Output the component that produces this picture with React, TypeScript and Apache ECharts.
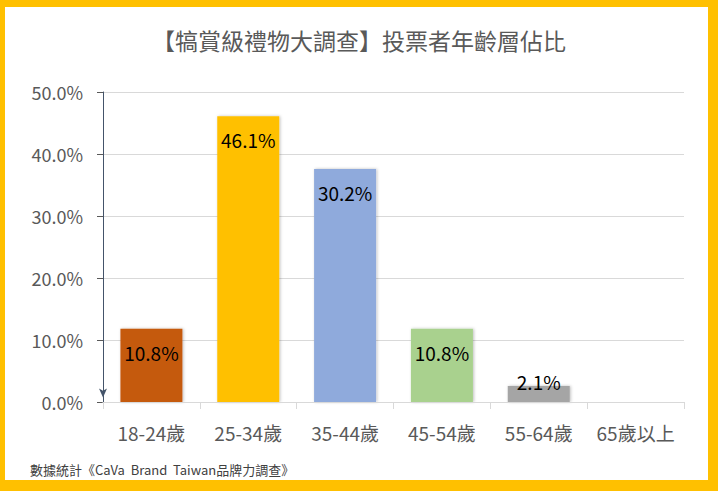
import React, { useEffect, useRef } from "react";
import * as echarts from "echarts";

const titleText = "【犒賞級禮物大調查】投票者年齡層佔比";
const footerText = "數據統計《CaVa  Brand  Taiwan品牌力調查》";
const categories = ["18-24歲", "25-34歲", "35-44歲", "45-54歲", "55-64歲", "65歲以上"];
// bar heights as drawn in the picture (percent)
const barHeights: (number | null)[] = [11.8, 46.1, 37.6, 11.8, 2.6, null];
// labels printed on the bars
const labelValues: (number | null)[] = [10.8, 46.1, 30.2, 10.8, 2.1, null];
const barColors = ["#C55A11", "#FFC000", "#8FAADC", "#A9D18E", "#A5A5A5", "#A5A5A5"];

const FONT = "'Noto Sans CJK TC', 'Noto Sans', sans-serif";

export default function App() {
  const ref = useRef<HTMLDivElement>(null);
  useEffect(() => {
    if (!ref.current) return;
    const chart = echarts.init(ref.current, undefined, { renderer: "svg" });
    const data = barHeights.map((v, i) => {
      const lv = labelValues[i];
      const small = v !== null && v < 5;
      return {
        value: v,
        itemStyle: { color: barColors[i] },
        label: {
          show: lv !== null,
          position: small ? "top" : "insideTop",
          distance: small ? -5 : 14,
          formatter: lv !== null ? lv.toFixed(1) + "%" : "",
        },
      };
    });
    chart.setOption({
      animation: false,
      backgroundColor: "#ffffff",
      textStyle: { fontFamily: FONT },
      title: {
        text: titleText,
        left: "center",
        top: 23,
        textStyle: { fontFamily: FONT, fontSize: 23, fontWeight: "normal", color: "#595959" },
      },
      graphic: [
        { type: "rect", left: 0, top: 0, shape: { width: 718, height: 7 }, style: { fill: "#FFC000" }, silent: true },
        { type: "rect", left: 0, top: 480, shape: { width: 718, height: 11 }, style: { fill: "#FFC000" }, silent: true },
        { type: "rect", left: 0, top: 0, shape: { width: 5, height: 491 }, style: { fill: "#FFC000" }, silent: true },
        { type: "rect", left: 708, top: 0, shape: { width: 10, height: 491 }, style: { fill: "#FFC000" }, silent: true },
        {
          type: "text",
          left: 30,
          top: 463,
          style: { text: footerText, fontFamily: FONT, fontSize: 13, fill: "#404040" },
        },
      ],
      grid: { left: 103, right: 34, top: 92, bottom: 89, containLabel: false, outerBoundsMode: "none" },
      xAxis: {
        type: "category",
        data: categories,
        boundaryGap: true,
        axisLine: { show: true, lineStyle: { color: "#D9D9D9", width: 1 } },
        axisTick: { show: true, length: 7, alignWithLabel: false, lineStyle: { color: "#D9D9D9" } },
        axisLabel: { interval: 0, margin: 21, fontSize: 19, color: "#595959", fontFamily: FONT },
        z: 3,
      },
      yAxis: {
        type: "value",
        min: 0,
        max: 50,
        interval: 10,
        axisLine: {
          show: true,
          symbol: ["arrow", "none"],
          symbolSize: [6, 9],
          symbolOffset: [4.5, 0],
          lineStyle: { color: "#44546A", width: 1 },
        },
        axisTick: { show: true, length: 6, lineStyle: { color: "#595959" } },
        axisLabel: {
          margin: 20,
          fontSize: 18,
          color: "#595959",
          fontFamily: FONT,
          formatter: (v: number) => v.toFixed(1) + "%",
        },
        splitLine: { show: true, lineStyle: { color: "#D9D9D9", width: 1 } },
      },
      series: [
        {
          type: "bar",
          data,
          barWidth: 62,
          itemStyle: {
            shadowBlur: 3,
            shadowColor: "rgba(0,0,0,0.25)",
            shadowOffsetX: 1,
            shadowOffsetY: 0,
          },
          label: { color: "#000000", fontSize: 19, fontFamily: FONT },
        },
      ],
    });
    return () => chart.dispose();
  }, []);
  return (
    <div
      ref={ref}
      style={{ position: "absolute", left: 0, top: 0, width: 718, height: 491 }}
    />
  );
}
